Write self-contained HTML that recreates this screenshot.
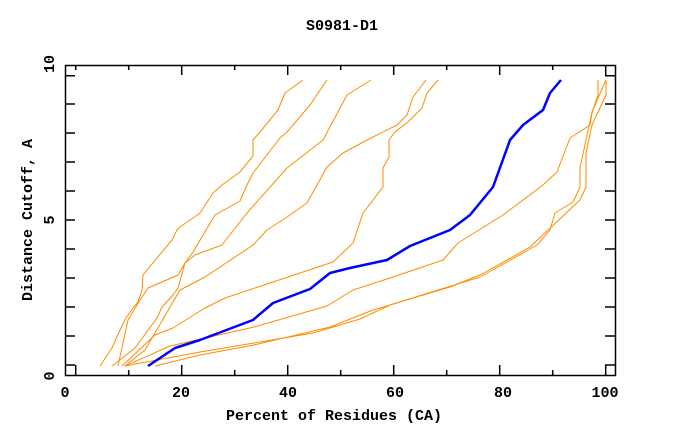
<!DOCTYPE html>
<html><head><meta charset="utf-8"><style>
body{margin:0;background:#fff}
svg{display:block}
text{font-family:"Liberation Mono",monospace;font-weight:bold;font-size:15px;fill:#000}
</style></head><body>
<svg width="680" height="440" viewBox="0 0 680 440" xmlns="http://www.w3.org/2000/svg">
<rect x="65.5" y="65.5" width="550" height="310" fill="none" stroke="#000" stroke-width="1.5"/>
<g stroke="#000" stroke-width="1.5">
<path d="M75.7 375v-10M128.7 375v-5M181.7 375v-10M234.7 375v-5M287.7 375v-10M340.7 375v-5M393.7 375v-10M446.7 375v-5M499.7 375v-10M552.7 375v-5M605.7 375v-10"/>
<path d="M75.7 65v5M128.7 65v5M181.7 65v10M234.7 65v5M287.7 65v10M340.7 65v5M393.7 65v10M446.7 65v5M499.7 65v10M552.7 65v5M605.7 65v10"/>
<path d="M65 365h10M65 336h10M65 307h10M65 278h10M65 249h10M65 220h10M65 191h10M65 162h10M65 133h10M65 104h10M65 75.7h10"/>
<path d="M615 365h-10M615 336h-10M615 307h-10M615 278h-10M615 249h-10M615 220h-10M615 191h-10M615 162h-10M615 133h-10M615 104h-10M615 75.7h-10"/>
</g>
<text x="342" y="30" text-anchor="middle">S0981-D1</text>
<text x="334" y="420" text-anchor="middle">Percent of Residues (CA)</text>
<text transform="translate(32,220) rotate(-90)" text-anchor="middle">Distance Cutoff, A</text>
<g text-anchor="middle">
<text x="65" y="397">0</text><text x="181" y="397">20</text><text x="288" y="397">40</text><text x="395" y="397">60</text><text x="503" y="397">80</text><text x="605" y="397">100</text>
<text transform="translate(54,376) rotate(-90)">0</text>
<text transform="translate(54,220) rotate(-90)">5</text>
<text transform="translate(54,64) rotate(-90)">10</text>
</g>
<g fill="none" stroke="#ff8c00" stroke-width="1" stroke-linejoin="round">
<polyline points="100,366 112,348 120,330 126,318 133,308 138,302 142,290 143,275 147,270 172,240 177,230 180,227 200,213 213,193 222,185 240,172 253,156 253,140 260,132 278,110 285,93 303,80"/>
<polyline points="118,366 128,320 140,300 148,288 178,275 185,263 193,252 215,215 240,201 247,185 253,173 280,138 287,132 310,105 327,80"/>
<polyline points="112,366 135,348 157,318 162,307 173,295 178,288 185,263 195,255 222,245 247,213 287,168 323,140 347,95 371,80"/>
<polyline points="125,366 145,350 180,290 205,277 253,245 267,230 287,217 307,203 327,167 343,153 367,140 397,125 407,115 413,97 426,80"/>
<polyline points="122,366 155,335 173,328 205,308 225,298 255,288 333,262 353,243 363,213 383,187 383,168 389,157 389,140 395,132 408,122 422,108 427,93 438,80"/>
<polyline points="125,366 170,346 254,327 327,306 353,290 387,279 443,260 458,243 503,215 543,185 557,172 570,138 590,125 592,113 598,95 598,80"/>
<polyline points="125,366 200,352 254,343 313,333 360,319 390,305 480,277 537,245 550,230 555,213 573,202 580,187 580,168 592,112 606,80"/>
<polyline points="155,366 200,355 254,345 330,327 373,310 450,287 482,274 530,247 580,200 586,187 586,153 592,125 606,95 606,80"/>
</g>
<polyline fill="none" stroke="#0000ff" stroke-width="2.5" stroke-linejoin="round" points="148,366 160,358 175,348 200,340 253,320 273,303 310,289 330,273 350,268 387,260 410,246 450,230 470,215 493,187 510,140 523,125 543,110 550,93 561,80"/>
</svg>
</body></html>
